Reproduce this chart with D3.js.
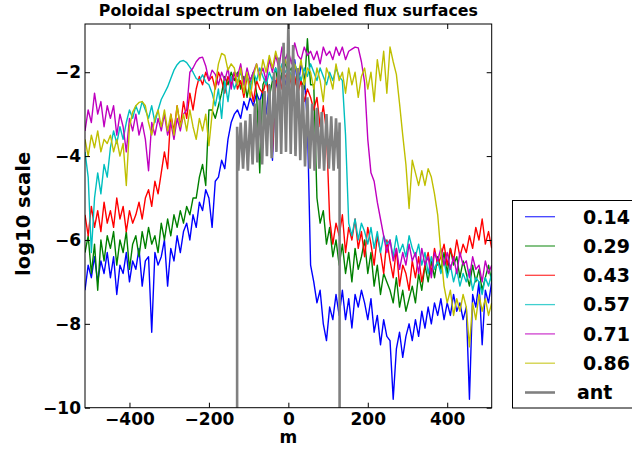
<!DOCTYPE html>
<html>
<head>
<meta charset="utf-8">
<script src="https://cdn.jsdelivr.net/npm/d3@7"></script>
<style>
  body { margin: 0; background: #fff; }
  text { font-family: "DejaVu Sans", sans-serif; font-weight: bold; }
</style>
</head>
<body>
<div id="chart"></div>
<script>
// poloidal mode number grid (step 8)
const mGrid = d3.range(-512, 513, 8);

const surfaceLabels = ["0.14", "0.29", "0.43", "0.57", "0.71", "0.86"];
const surfaceColors = ["#0000ff", "#008000", "#ff0000", "#00bfbf", "#bf00bf", "#bfbf00"];
const xTicks = [-400, -200, 0, 200, 400];
const yTicks = [-10, -8, -6, -4, -2];

// log10 amplitude, one value per grid point
const s014 = [
  -7.2, -6.6, -6.9, -6.4, -7.0, -6.5, -6.8, -6.3,
  -6.9, -6.4, -7.3, -6.6, -6.8, -6.3, -7.0, -6.5,
  -6.7, -6.2, -7.1, -6.5, -6.4, -8.2, -6.3, -6.6,
  -6.4, -6.0, -7.1, -6.2, -6.5, -5.9, -6.3, -5.8,
  -5.6, -6.0, -5.4, -5.7, -5.1, -5.3, -4.8, -5.0,
  -5.7, -4.6, -4.5, -4.1, -4.3, -3.6, -3.2, -3.0,
  -2.9, -3.1, -2.7, -2.9, -2.6, -2.8, -2.5, -2.7,
  -2.4, -3.0, -2.3, -4.1, -2.2, -2.5, -2.0, -2.3,
  -1.9, -2.2, -1.7, -2.4, -1.8, -2.1, -3.2, -6.6,
  -7.0, -7.5, -7.2, -8.0, -8.4, -7.6, -7.9, -7.3,
  -7.8, -7.2, -7.9, -7.4, -8.1, -7.3, -7.6, -7.2,
  -7.5, -7.9, -7.4, -8.2, -7.8, -8.5, -7.9, -8.3,
  -8.4, -9.8, -8.6, -8.2, -8.8, -8.3, -8.0, -8.4,
  -7.9, -8.3, -7.7, -8.1, -7.6, -8.0, -7.5, -7.8,
  -7.4, -7.9, -7.5, -7.8, -7.3, -7.7, -7.5, -7.9,
  -7.6, -9.8, -7.3, -7.6, -7.0, -8.5, -7.2, -7.5, -7.0
];
const s029 = [
  -6.3, -5.9, -6.8, -6.1, -7.2, -6.0, -6.5, -5.9,
  -6.2, -5.8, -6.6, -6.0, -6.3, -5.8, -6.7, -6.1,
  -5.9, -6.4, -5.8, -6.2, -5.7, -6.1, -5.9, -6.3,
  -5.6, -6.0, -5.5, -5.9, -5.4, -5.7, -5.3, -5.6,
  -5.2, -5.4, -5.0, -5.0, -4.5, -4.2, -4.7, -2.9,
  -2.9, -3.1, -2.8, -2.5, -2.1, -2.3, -2.0, -2.2,
  -2.0, -2.4, -2.1, -2.6, -2.2, -2.0, -2.5, -4.4,
  -2.3, -2.1, -2.6, -2.2, -1.9, -2.4, -2.0, -1.8,
  -2.0, -1.9, -2.3, -2.0, -2.2, -2.4, -1.2, -2.3,
  -2.3, -5.0, -5.6, -5.3, -6.1, -5.7, -6.4, -6.0,
  -6.6, -6.1, -6.8, -6.3, -7.0, -6.2, -6.7, -6.4,
  -6.0, -6.8, -6.3, -7.1, -6.6, -7.3, -6.8, -7.0,
  -7.2, -7.5, -6.9, -7.6, -7.2, -7.7, -7.4, -7.1,
  -7.5, -6.8, -7.2, -6.6, -7.0, -6.5, -6.9, -6.4,
  -6.7, -6.3, -6.8, -6.2, -6.6, -6.4, -6.9, -6.5,
  -6.8, -7.1, -6.6, -7.0, -6.7, -7.2, -6.9, -6.6, -7.0
];
const s043 = [
  -5.4, -5.9, -5.2, -5.7, -5.3, -5.8, -5.1, -5.6,
  -5.3, -5.7, -5.0, -5.5, -5.2, -5.8, -5.3, -5.6,
  -5.4, -5.1, -5.5, -5.0, -4.8, -5.2, -4.6, -4.9,
  -4.4, -3.9, -4.3, -3.0, -3.4, -2.8, -3.3, -2.7,
  -3.1, -2.5, -2.9, -2.4, -2.1, -2.3, -2.0, -2.2,
  -2.1, -2.4, -2.0, -2.2, -2.5, -2.1, -2.3, -2.0,
  -2.4, -2.2, -2.6, -2.1, -2.3, -2.7, -2.2, -2.4,
  -2.5, -2.2, -2.6, -3.9, -2.3, -2.0, -2.4, -2.1,
  -2.0, -2.3, -2.1, -2.5, -2.2, -2.7, -2.4, -2.6,
  -2.9, -2.6, -3.3, -2.8, -3.4, -5.5, -6.1, -5.6,
  -5.9, -5.4, -6.3, -5.7, -6.0, -5.5, -6.2, -5.8,
  -6.4, -5.7, -6.1, -6.6, -5.9, -6.3, -6.8, -6.0,
  -6.5, -6.9, -6.2, -7.1, -6.6, -6.8, -7.2, -6.5,
  -6.9, -6.4, -7.0, -6.6, -6.3, -6.8, -6.2, -6.6,
  -6.4, -6.1, -6.6, -6.2, -6.5, -6.0, -6.4, -6.1,
  -6.3, -5.9, -6.2, -5.7, -6.0, -5.5, -6.1, -5.8, -6.2
];
const s057 = [
  -3.9, -4.5, -6.3, -5.0, -4.4, -4.9, -4.2, -4.5,
  -3.8, -3.4, -3.7, -3.3, -3.6, -3.2, -2.9, -3.1,
  -2.8, -3.0, -2.7, -2.9, -3.1, -2.8, -3.2, -2.9,
  -2.65, -2.5, -2.35, -2.15, -1.95, -1.82, -1.74, -1.72,
  -1.77, -1.88, -2.0, -2.15, -2.2, -2.06, -2.24, -2.3,
  -2.5, -2.8, -2.4, -3.1, -2.2, -2.7, -2.1, -2.4,
  -2.2, -2.0, -2.3, -2.1, -2.4, -2.0, -2.2, -1.9,
  -2.1, -2.3, -2.0, -2.2, -1.9, -2.1, -1.8, -2.0,
  -1.9, -2.1, -1.8, -2.0, -2.2, -1.9, -2.1, -1.8,
  -2.0, -2.2, -1.9, -2.1, -2.3, -2.0, -2.2, -1.9,
  -2.1, -2.2, -3.5, -5.6, -5.9, -5.5, -6.0, -5.6,
  -5.8, -6.1, -5.7, -6.2, -5.8, -6.3, -5.9, -6.1,
  -6.0, -6.4, -5.9, -6.3, -6.1, -6.4, -5.9, -6.2,
  -6.4, -6.1, -6.6, -6.3, -6.8, -6.4, -6.7, -6.5,
  -6.8, -6.5, -6.9, -6.6, -7.0, -6.7, -7.1, -6.8,
  -7.0, -6.7, -7.2, -6.9, -7.0, -7.3, -6.9, -7.1, -6.8
];
const s071 = [
  -3.4, -2.9, -3.2, -2.5, -3.0, -2.7, -3.3, -2.8,
  -3.1, -2.8, -3.5, -3.0, -3.3, -3.9, -3.1, -3.4,
  -3.0, -3.5, -3.2, -3.6, -4.35, -3.2, -3.5, -3.1,
  -3.4, -3.0, -3.5, -3.2, -3.6, -3.1, -3.4, -3.0,
  -2.9, -2.0, -1.9, -1.75, -1.66, -1.64, -1.85, -2.2,
  -1.95, -2.05, -2.3, -2.0, -2.2, -1.9, -2.4, -2.0,
  -2.1, -1.8, -2.3, -1.9, -2.2, -2.0, -1.8, -2.1,
  -1.9, -2.2, -1.7, -2.0, -1.6, -1.9, -1.4, -1.7,
  -1.5, -1.8, -1.3, -1.6, -1.7, -1.4, -1.6, -1.5,
  -1.7, -1.5, -1.8, -1.4, -1.6, -1.5, -1.7, -1.4,
  -1.6, -1.4, -1.7, -1.5, -1.45, -1.4, -1.42, -1.75,
  -2.25, -3.6, -4.4, -4.6, -5.1, -5.5, -5.9, -6.3,
  -6.0, -6.5, -6.2, -6.7, -6.3, -6.6, -6.1, -6.5,
  -6.3, -6.8, -6.2, -6.6, -6.4, -6.9, -6.3, -6.5,
  -6.2, -6.6, -6.3, -6.7, -6.4, -6.8, -6.3, -6.6,
  -6.5, -6.9, -6.4, -6.7, -6.6, -7.0, -6.5, -6.8, -6.6
];
const s086 = [
  -3.6, -4.0, -3.5, -3.8, -3.4, -3.9, -3.6, -3.7,
  -3.5, -3.9, -3.6, -4.0, -3.7, -4.7, -3.3, -2.95,
  -2.8, -2.72, -2.7, -2.8, -3.2, -3.5, -3.1, -2.9,
  -3.3, -2.9, -3.4, -3.0, -3.5, -2.8, -3.3, -3.0,
  -3.4, -2.9, -3.3, -3.6, -3.1, -3.4, -3.0, -3.75,
  -3.0, -2.3, -1.8, -1.55, -1.6, -1.95, -1.8, -1.9,
  -2.3, -1.9, -2.5, -2.0, -2.6, -2.1, -1.8, -2.2,
  -1.7, -2.0, -1.6, -1.9, -1.5, -1.8, -2.0, -1.7,
  -1.9, -2.2, -1.8, -2.1, -1.7, -2.3, -1.9, -2.0,
  -2.4, -1.9, -2.2, -2.7, -1.9, -2.1, -2.4, -1.8,
  -2.2, -2.0, -2.5, -1.9, -2.3, -2.0, -2.6, -2.1,
  -1.9, -2.4, -2.0, -2.7, -1.7, -2.2, -1.5, -2.5,
  -1.4, -1.75, -2.05, -2.75, -3.5, -4.2, -5.25, -4.1,
  -4.4, -4.7, -4.35, -4.7, -4.3, -4.5, -4.9, -5.4,
  -6.3, -7.1, -7.5, -7.2, -7.8, -7.4, -7.7, -7.3,
  -7.6, -8.55, -7.5, -7.9, -7.3, -7.7, -7.4, -7.8, -7.5
];
const surfaceValues = [s014, s029, s043, s057, s071, s086];

// antenna spectrum
const antM = [-129, -129, -126, -120, -114, -108, -102, -96, -90, -84, -78, -72, -66, -60,
  -54, -48, -42, -36, -30, -24, -18, -12, -6, 0, 6, 12, 18, 24, 30, 36, 42, 48, 54, 60,
  66, 72, 78, 84, 90, 96, 102, 108, 114, 120, 126, 129, 129];
const antVals = [-10.5, -3.3, -4.35, -3.2, -4.3, -3.15, -4.35, -3.0, -4.2, -2.75, -4.15, -2.65,
  -4.2, -2.45, -4.0, -2.3, -4.05, -2.0, -3.9, -1.65, -3.95, -1.3, -3.9, -0.85, -3.95, -1.35,
  -4.0, -1.9, -4.1, -2.3, -4.25, -2.6, -4.3, -2.75, -4.35, -2.85, -4.3, -2.95, -4.35, -3.0,
  -4.3, -3.05, -4.35, -3.1, -4.3, -3.2, -10.5];

const width = 632, height = 451;
const plot = { left: 85, right: 491.7, top: 24, bottom: 407.7 };

const svg = d3.select("#chart").append("svg")
  .attr("width", width)
  .attr("height", height);

const xScale = d3.scaleLinear().domain([-512, 512]).range([plot.left, plot.right]);
const yScale = d3.scaleLinear().domain([-10, -0.85]).range([plot.bottom, plot.top]);

svg.append("clipPath").attr("id", "clip")
  .append("rect")
    .attr("x", plot.left).attr("y", plot.top)
    .attr("width", plot.right - plot.left)
    .attr("height", plot.bottom - plot.top);

const line = d3.line()
  .x(d => xScale(d[0]))
  .y(d => yScale(d[1]));

const lines = svg.append("g").attr("clip-path", "url(#clip)");

surfaceValues.forEach((vals, k) => {
  lines.append("path")
    .datum(mGrid.map((m, i) => [m, vals[i]]))
    .attr("fill", "none")
    .attr("stroke", surfaceColors[k])
    .attr("stroke-width", 1.4)
    .attr("stroke-linejoin", "round")
    .attr("d", line);
});

lines.append("path")
  .datum(antM.map((m, i) => [m, antVals[i]]))
  .attr("fill", "none")
  .attr("stroke", "#808080")
  .attr("stroke-width", 2.6)
  .attr("d", line);

// axes, ticks pointing inward on all four sides
const gx = svg.append("g")
  .attr("transform", `translate(0,${plot.bottom})`)
  .call(d3.axisBottom(xScale).tickValues(xTicks).tickSize(-5).tickPadding(5));
const gy = svg.append("g")
  .attr("transform", `translate(${plot.left},0)`)
  .call(d3.axisLeft(yScale).tickValues(yTicks).tickSize(-5).tickPadding(4));
svg.append("g")
  .attr("transform", `translate(0,${plot.top})`)
  .call(d3.axisTop(xScale).tickValues(xTicks).tickSize(-5).tickFormat(""));
svg.append("g")
  .attr("transform", `translate(${plot.right},0)`)
  .call(d3.axisRight(yScale).tickValues(yTicks).tickSize(-5).tickFormat(""));

svg.selectAll(".domain").remove();
svg.selectAll(".tick line").attr("stroke", "#000");
gx.selectAll("text").attr("font-size", 17).attr("fill", "#000");
gy.selectAll("text").attr("font-size", 17).attr("fill", "#000");

svg.append("rect")
  .attr("x", plot.left).attr("y", plot.top)
  .attr("width", plot.right - plot.left)
  .attr("height", plot.bottom - plot.top)
  .attr("fill", "none")
  .attr("stroke", "#000")
  .attr("stroke-width", 1);

// title and axis labels
svg.append("text")
  .attr("x", (plot.left + plot.right) / 2)
  .attr("y", 16)
  .attr("text-anchor", "middle")
  .attr("font-size", 15.8)
  .text("Poloidal spectrum on labeled flux surfaces");

svg.append("text")
  .attr("x", (plot.left + plot.right) / 2)
  .attr("y", 443)
  .attr("text-anchor", "middle")
  .attr("font-size", 17)
  .text("m");

svg.append("text")
  .attr("transform", `translate(30,${(plot.top + plot.bottom) / 2 - 2}) rotate(-90)`)
  .attr("text-anchor", "middle")
  .attr("font-size", 19.5)
  .text("log10 scale");

// legend
const legendLabels = surfaceLabels.concat(["ant"]);
const legendColors = surfaceColors.concat(["#808080"]);
const legend = svg.append("g");
legend.append("rect")
  .attr("x", 512.5).attr("y", 200.5)
  .attr("width", 140).attr("height", 207.5)
  .attr("fill", "#fff")
  .attr("stroke", "#000");

legendLabels.forEach((lab, k) => {
  const cy = 216.7 + k * 29.3;
  legend.append("line")
    .attr("x1", 525).attr("x2", 555)
    .attr("y1", cy).attr("y2", cy)
    .attr("stroke", legendColors[k])
    .attr("stroke-opacity", lab === "ant" ? 1 : 0.75)
    .attr("stroke-width", lab === "ant" ? 2.6 : 1.3);
  legend.append("text")
    .attr("x", lab === "ant" ? 577 : 583)
    .attr("y", cy)
    .attr("dy", "0.36em")
    .attr("font-size", 19)
    .text(lab);
});
</script>
</body>
</html>
